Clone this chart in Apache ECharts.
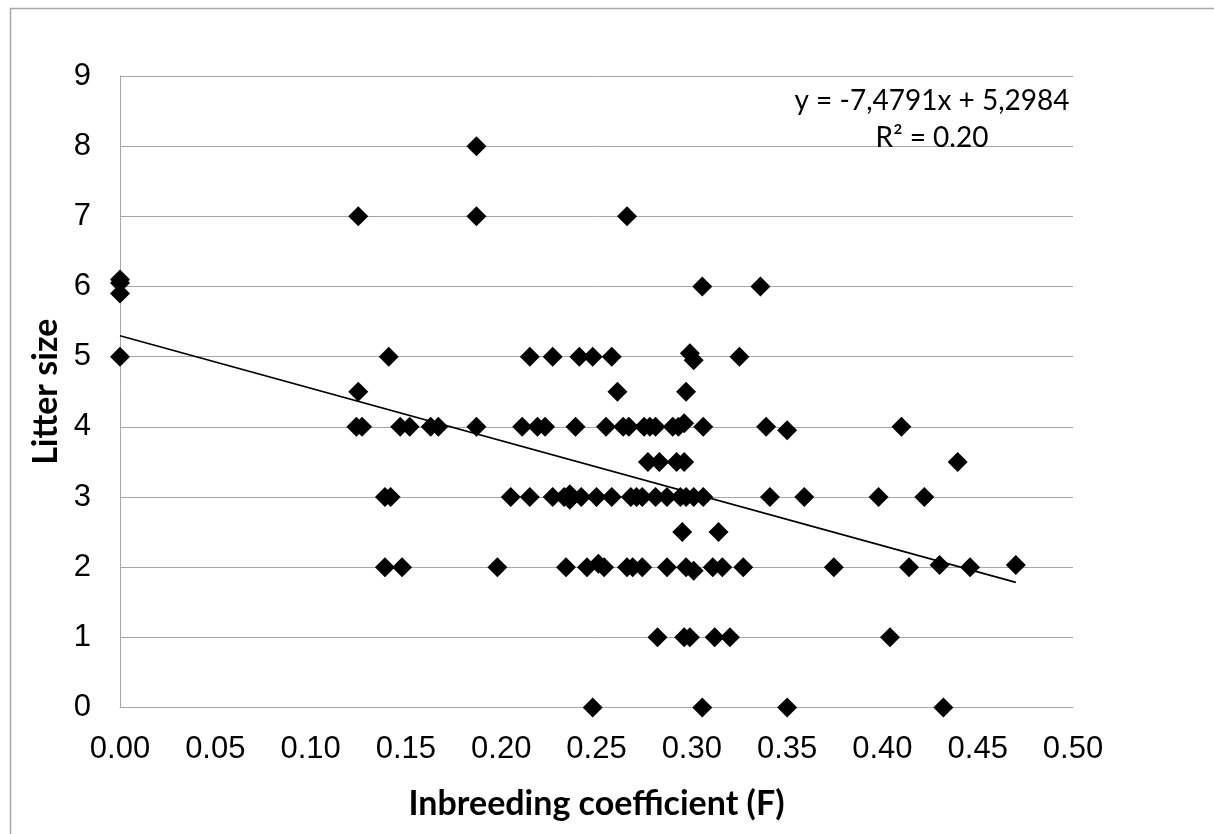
<!DOCTYPE html>
<html>
<head>
<meta charset="utf-8">
<script src="https://cdn.jsdelivr.net/npm/echarts@6/dist/echarts.min.js"></script>
<style>
html,body{margin:0;padding:0;background:#fff;}
#chart{width:1214px;height:834px;}
</style>
</head>
<body>
<div id="chart"></div>
<script>
// Inbreeding coefficient (F) values
const inbreeding = [
  0, 0, 0, 0,
  0.125, 0.125, 0.124, 0.127,
  0.141, 0.139, 0.142, 0.139, 0.148,
  0.147, 0.152, 0.163, 0.167,
  0.187, 0.187, 0.187,
  0.198, 0.205, 0.211,
  0.215, 0.215, 0.219, 0.223,
  0.227, 0.227,
  0.233, 0.236, 0.236, 0.234,
  0.239, 0.241, 0.242, 0.245,
  0.248, 0.248, 0.251, 0.250, 0.254,
  0.255, 0.258, 0.258, 0.261,
  0.264, 0.267, 0.266,
  0.266, 0.269, 0.268, 0.271, 0.274, 0.274,
  0.275, 0.278, 0.281,
  0.277, 0.283, 0.281, 0.282,
  0.287, 0.287,
  0.290, 0.293, 0.296,
  0.292, 0.296, 0.294, 0.295,
  0.296, 0.299, 0.297,
  0.297, 0.297,
  0.299, 0.301,
  0.301, 0.301,
  0.3055, 0.3055,
  0.306, 0.306,
  0.311, 0.312, 0.314, 0.316, 0.320,
  0.325, 0.327, 0.336, 0.339, 0.341,
  0.350, 0.350, 0.359, 0.3745,
  0.398, 0.404, 0.410, 0.414, 0.422,
  0.430, 0.432, 0.4395, 0.446, 0.470
];
// Litter size values (same order)
const litterSize = [
  6.1, 6.05, 5.9, 5,
  7, 4.5, 4, 4,
  5, 3, 3, 2, 2,
  4, 4, 4, 4,
  8, 7, 4,
  2, 3, 4,
  5, 3, 4, 4,
  5, 3,
  3, 3.04, 2.96, 2,
  4, 5, 3, 2,
  5, 0, 2.05, 3, 2,
  4, 5, 3, 4.5,
  4, 4, 7,
  2, 2, 3, 3, 3, 2,
  4, 4, 4,
  3.5, 3.5, 3, 1,
  3, 2,
  4, 4, 4.05,
  3.5, 3.5, 3, 2.5,
  1, 1, 4.5,
  3, 2,
  5.05, 4.95,
  3, 1.95,
  6, 0,
  4, 3,
  2, 1, 2.5, 2, 1,
  5, 2, 6, 4, 3,
  3.95, 0, 3, 2,
  3, 1, 4, 2, 3,
  2.03, 0, 3.5, 2, 2.03
];
// Linear trendline as shown on the chart
const trendSlope = -7.4791;
const trendIntercept = 5.2984;
const trendRange = [0, 0.47];
const equationText = 'y = -7,4791x + 5,2984';
const r2Text = 'R\u00B2 = 0.20';
const xTickLabels = ['0.00','0.05','0.10','0.15','0.20','0.25','0.30','0.35','0.40','0.45','0.50'];

const points = inbreeding.map((x, i) => [x, litterSize[i]]);
const trend = trendRange.map(x => [x, trendSlope * x + trendIntercept]);

const chart = echarts.init(document.getElementById('chart'));
const labelFont = 'Liberation Sans, Arial, sans-serif';
const titleFont = 'Lato, Carlito, Calibri, sans-serif';
chart.setOption({
  animation: false,
  backgroundColor: '#fff',
  grid: {left: 120, right: 141, top: 76, bottom: 126.5},
  xAxis: {
    type: 'value', min: 0, max: 0.5, interval: 0.05,
    name: 'Inbreeding coefficient (F)', nameLocation: 'middle', nameGap: 80,
    nameTextStyle: {fontFamily: titleFont, fontWeight: 'bold', fontSize: 34, color: '#000'},
    axisLine: {show: true, lineStyle: {color: '#a6a6a6', width: 1}},
    axisTick: {show: false},
    splitLine: {show: false},
    axisLabel: {
      margin: 26, fontFamily: labelFont, fontSize: 31, color: '#000',
      formatter: (v) => xTickLabels[Math.round(v / 0.05)]
    }
  },
  yAxis: {
    type: 'value', min: 0, max: 9, interval: 1,
    name: 'Litter size', nameLocation: 'middle', nameGap: 56,
    nameTextStyle: {fontFamily: titleFont, fontWeight: 'bold', fontSize: 34, color: '#000'},
    axisLine: {show: true, lineStyle: {color: '#a6a6a6', width: 1}},
    axisTick: {show: false},
    splitLine: {show: true, lineStyle: {color: '#a6a6a6', width: 1}},
    axisLabel: {margin: 29, fontFamily: labelFont, fontSize: 31, color: '#000'}
  },
  series: [
    {
      type: 'scatter', data: points, symbol: 'diamond', symbolSize: 20,
      itemStyle: {color: '#000', opacity: 1}, clip: false, z: 3
    },
    {
      type: 'line', data: trend, symbol: 'none', clip: false,
      lineStyle: {color: '#000', width: 1.6}, z: 4
    }
  ],
  graphic: [
    {type: 'rect', left: 8, top: 6, shape: {width: 1400, height: 1000},
     style: {fill: 'none', stroke: '#a6a6a6', lineWidth: 1.5}, z: -1, silent: true},
    {type: 'text', x: 932, y: 87, style: {text: equationText, align: 'center',
     font: '28px ' + titleFont, fill: '#000'}, z: 10},
    {type: 'text', x: 932, y: 124, style: {text: r2Text, align: 'center',
     font: '28px ' + titleFont, fill: '#000'}, z: 10}
  ]
});
</script>
</body>
</html>
